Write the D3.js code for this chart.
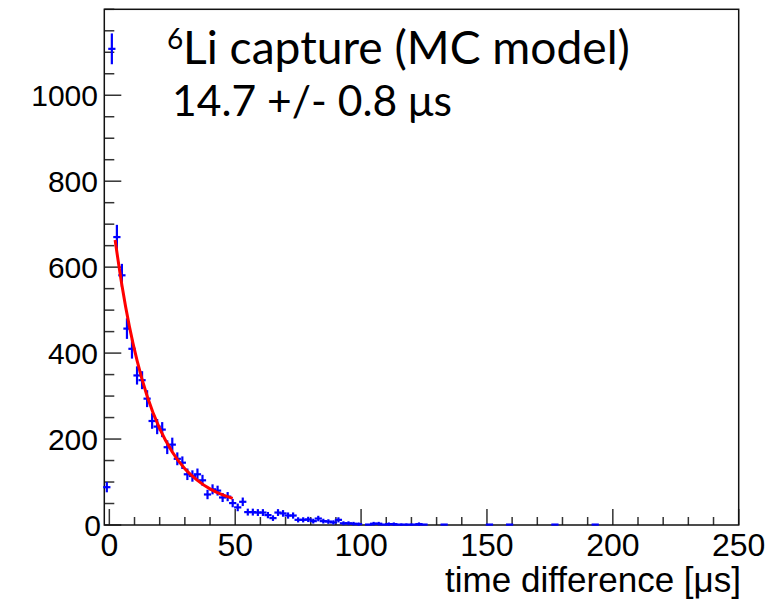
<!DOCTYPE html>
<html>
<head>
<meta charset="utf-8">
<script src="https://cdn.jsdelivr.net/npm/d3@7"></script>
<style>
  html, body { margin: 0; padding: 0; background: #fff; }
  svg { display: block; }
</style>
</head>
<body>
<svg id="chart" width="781" height="602"></svg>
<script>
// ---- data ----
const binCenters = [-1, 1, 3, 5, 7, 9, 11, 13, 15, 17, 19, 21, 23, 25, 27, 29, 31, 33, 35, 37, 39,
  41, 43, 45, 47, 49, 51, 53, 55, 57, 59, 61, 63, 65, 67, 69, 71, 73, 75, 77, 79,
  81, 83, 85, 87, 89, 91, 93, 95, 97, 99, 103, 105, 107, 109, 111, 113, 115, 117, 119,
  121, 123, 125, 133, 151, 159, 177, 193];
const counts = [88, 1108, 670, 581, 457, 410, 348, 337, 294, 242, 229, 222, 181, 187, 154, 145, 118, 114, 118, 104, 71,
  83, 80, 64, 66, 51, 41, 54, 30, 30, 29, 29, 23, 16, 29, 27, 22, 22, 12, 12, 13,
  9, 15, 9, 8, 6, 12, 4, 4, 3, 2, 1, 3, 3, 1, 2, 2, 1, 1, 1,
  1, 2, 1, 1, 1, 1, 1, 1];
const binHalfWidth = 1;

// fit curve samples
const fitT = [2.3, 5, 8, 11, 15, 20, 25, 30, 35, 40, 45, 49];
const fitV = [663, 558, 461, 383, 300, 224, 170, 131, 104, 84, 70, 62];

const xMajorTicks = [0, 50, 100, 150, 200, 250];
const xMinorTicks = [10, 20, 30, 40, 60, 70, 80, 90, 110, 120, 130, 140, 160, 170, 180, 190, 210, 220, 230, 240];
const yMajorTicks = [0, 200, 400, 600, 800, 1000];
const yMinorTicks = [50, 100, 150, 250, 300, 350, 450, 500, 550, 650, 700, 750, 850, 900, 950, 1050, 1100, 1150, 1200];

const xDomain = [-2, 250];
const yDomain = [0, 1200];

const titleSup = "6";
const titleMain = "Li capture (MC model)";
const resultText = "14.7 +/- 0.8 \u03bcs";
const xTitle = "time difference [\u03bcs]";

// ---- layout ----
const svg = d3.select("#chart");
const L = 104.3, R = 738.7, T = 9.3, B = 525;

const x = d3.scaleLinear().domain(xDomain).range([L, R]);
const y = d3.scaleLinear().domain(yDomain).range([B, T]);

svg.append("rect").attr("width", 781).attr("height", 602).attr("fill", "#fff");

// ticks
const tickCol = "#333";
const gx = svg.append("g");
gx.selectAll("line.maj").data(xMajorTicks).join("line")
  .attr("class", "maj")
  .attr("x1", d => x(d)).attr("x2", d => x(d))
  .attr("y1", B).attr("y2", B - 16)
  .attr("stroke", tickCol).attr("stroke-width", 1.5);
gx.selectAll("line.min").data(xMinorTicks).join("line")
  .attr("class", "min")
  .attr("x1", d => x(d)).attr("x2", d => x(d))
  .attr("y1", B).attr("y2", B - 8)
  .attr("stroke", tickCol).attr("stroke-width", 1.5);

const gy = svg.append("g");
gy.selectAll("line.maj").data(yMajorTicks).join("line")
  .attr("class", "maj")
  .attr("x1", L).attr("x2", L + 17)
  .attr("y1", d => y(d)).attr("y2", d => y(d))
  .attr("stroke", tickCol).attr("stroke-width", 1.5);
gy.selectAll("line.min").data(yMinorTicks).join("line")
  .attr("class", "min")
  .attr("x1", L).attr("x2", L + 10)
  .attr("y1", d => y(d)).attr("y2", d => y(d))
  .attr("stroke", tickCol).attr("stroke-width", 1.5);

// frame
svg.append("rect")
  .attr("x", L).attr("y", T).attr("width", R - L).attr("height", B - T)
  .attr("fill", "none").attr("stroke", "#111").attr("stroke-width", 1.5);

// tick labels
const labFont = "'Liberation Sans', Arial, sans-serif";
svg.append("g").selectAll("text").data(xMajorTicks).join("text")
  .attr("x", d => x(d)).attr("y", 556)
  .attr("text-anchor", "middle")
  .attr("font-family", labFont).attr("font-size", 32)
  .attr("fill", "#000")
  .text(d => d);
svg.append("g").selectAll("text").data(yMajorTicks).join("text")
  .attr("x", d => d === 0 ? 101 : 98).attr("y", d => y(d) + 11)
  .attr("text-anchor", "end")
  .attr("font-family", labFont).attr("font-size", 30)
  .attr("fill", "#000")
  .text(d => d);

// axis title
const xt = svg.append("text")
  .attr("x", 741).attr("y", 592)
  .attr("text-anchor", "end")
  .attr("font-family", labFont).attr("font-size", 30)
  .attr("fill", "#000")
  .text(xTitle);
function fitWidth(sel, w) {
  const len = sel.node().getComputedTextLength();
  const fs = parseFloat(sel.attr("font-size"));
  sel.attr("font-size", fs * w / len);
}
fitWidth(xt, 296);

// data points with error bars
const pts = binCenters.map((c, i) => ({ c, n: counts[i] }));
const gd = svg.append("g").attr("stroke", "#0000ff").attr("stroke-width", 2.2)
  .attr("stroke-linecap", "square");
gd.selectAll("line.v").data(pts.filter(d => d.n > 1)).join("line")
  .attr("class", "v")
  .attr("x1", d => x(d.c)).attr("x2", d => x(d.c))
  .attr("y1", d => y(d.n - Math.sqrt(d.n))).attr("y2", d => y(d.n + Math.sqrt(d.n)));
gd.selectAll("line.h").data(pts).join("line")
  .attr("class", "h")
  .attr("x1", d => x(d.c - binHalfWidth)).attr("x2", d => x(d.c + binHalfWidth))
  .attr("y1", d => y(d.n)).attr("y2", d => y(d.n));

// fit curve
const fitData = fitT.map((t, i) => [t, fitV[i]]);
svg.append("path")
  .datum(fitData)
  .attr("d", d3.line().x(d => x(d[0])).y(d => y(d[1])).curve(d3.curveMonotoneX))
  .attr("fill", "none").attr("stroke", "#ff0000").attr("stroke-width", 3);

// annotation texts
const annFont = "Lato, 'Open Sans', sans-serif";
svg.append("text")
  .attr("x", 167).attr("y", 49)
  .attr("font-family", annFont).attr("font-size", 28)
  .attr("fill", "#000").text(titleSup);
const t1 = svg.append("text")
  .attr("x", 183).attr("y", 64)
  .attr("font-family", annFont).attr("font-size", 44)
  .attr("fill", "#000").text(titleMain);
fitWidth(t1, 447);
const t2 = svg.append("text")
  .attr("x", 172).attr("y", 116)
  .attr("font-family", annFont).attr("font-size", 44)
  .attr("fill", "#000").text(resultText);
fitWidth(t2, 280);
</script>
</body>
</html>
